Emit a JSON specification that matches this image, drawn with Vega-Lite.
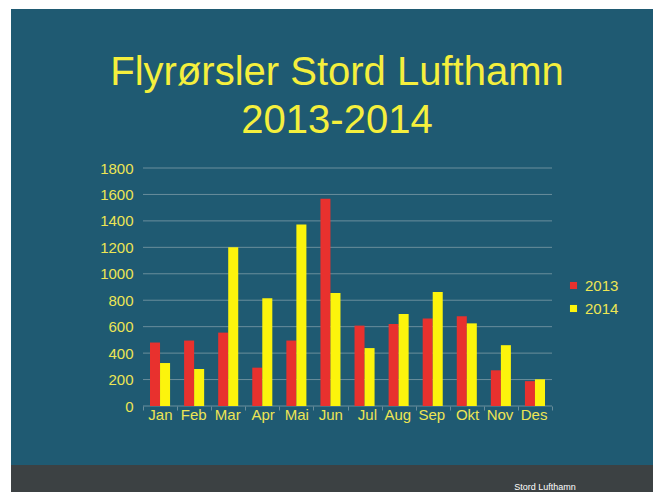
{
  "$schema": "https://vega.github.io/schema/vega-lite/v6.json",
  "width": 642,
  "height": 483,
  "autosize": {"type": "none"},
  "padding": {"left": 11, "top": 9, "right": 0, "bottom": 0},
  "background": "#ffffff",
  "config": {
    "view": {"fill": "#1f5a72", "stroke": null},
    "font": "Liberation Sans"
  },
  "title": {
    "text": ["Flyrørsler Stord Lufthamn", "2013-2014"],
    "fontSize": 40,
    "fontWeight": "normal",
    "font": "Liberation Sans",
    "color": "#f5ef3d",
    "anchor": "middle",
    "frame": "group",
    "baseline": "top",
    "lineHeight": 48,
    "dx": 5,
    "offset": -132
  },
  "datasets": {
    "flights": [
      {"month": "Jan", "year": "2013", "value": 480},
      {"month": "Jan", "year": "2014", "value": 325},
      {"month": "Feb", "year": "2013", "value": 495},
      {"month": "Feb", "year": "2014", "value": 280},
      {"month": "Mar", "year": "2013", "value": 555},
      {"month": "Mar", "year": "2014", "value": 1200},
      {"month": "Apr", "year": "2013", "value": 290},
      {"month": "Apr", "year": "2014", "value": 815},
      {"month": "Mai", "year": "2013", "value": 495},
      {"month": "Mai", "year": "2014", "value": 1372},
      {"month": "Jun", "year": "2013", "value": 1568},
      {"month": "Jun", "year": "2014", "value": 855},
      {"month": "Jul", "year": "2013", "value": 608},
      {"month": "Jul", "year": "2014", "value": 438},
      {"month": "Aug", "year": "2013", "value": 620},
      {"month": "Aug", "year": "2014", "value": 695},
      {"month": "Sep", "year": "2013", "value": 662},
      {"month": "Sep", "year": "2014", "value": 862},
      {"month": "Okt", "year": "2013", "value": 678},
      {"month": "Okt", "year": "2014", "value": 625},
      {"month": "Nov", "year": "2013", "value": 270},
      {"month": "Nov", "year": "2014", "value": 460},
      {"month": "Des", "year": "2013", "value": 188},
      {"month": "Des", "year": "2014", "value": 202}
    ],
    "gridlines": [
      {"value": 0}, {"value": 200}, {"value": 400}, {"value": 600}, {"value": 800},
      {"value": 1000}, {"value": 1200}, {"value": 1400}, {"value": 1600}, {"value": 1800}
    ],
    "footer": [{"label": "Stord Lufthamn"}]
  },
  "layer": [
    {
      "data": {"name": "footer"},
      "mark": {"type": "rect", "color": "#3c4143"},
      "encoding": {
        "y": {"datum": -446, "type": "quantitative"},
        "y2": {"datum": -680}
      }
    },
    {
      "data": {"name": "footer"},
      "mark": {"type": "text", "color": "#ffffff", "fontSize": 9, "dx": 10},
      "encoding": {
        "x": {"datum": "Des", "type": "nominal"},
        "y": {"datum": -613, "type": "quantitative"},
        "text": {"field": "label"}
      }
    },
    {
      "data": {"name": "gridlines"},
      "mark": {"type": "rule", "color": "#6a8e9c", "strokeWidth": 1},
      "encoding": {
        "x": {"datum": "Jan", "type": "nominal", "bandPosition": 0},
        "x2": {"datum": "Des", "bandPosition": 1},
        "y": {"field": "value", "type": "quantitative"}
      }
    },
    {
      "data": {"name": "flights"},
      "mark": {"type": "bar"},
      "encoding": {
        "x": {
          "field": "month",
          "type": "nominal",
          "scale": {
            "domain": ["Jan", "Feb", "Mar", "Apr", "Mai", "Jun", "Jul", "Aug", "Sep", "Okt", "Nov", "Des"],
            "range": [132, 541],
            "paddingInner": 0,
            "paddingOuter": 0
          },
          "axis": {
            "title": null,
            "orient": "bottom",
            "offset": -86,
            "domain": false,
            "ticks": true,
            "tickBand": "extent",
            "tickSize": 4,
            "tickColor": "#6a8e9c",
            "labelAngle": 0,
            "labelOffset": 12,
            "labelPadding": 4,
            "labelFontSize": 15,
            "labelColor": "#ede554",
            "labelFont": "Liberation Sans"
          }
        },
        "xOffset": {
          "field": "year",
          "type": "nominal",
          "scale": {"paddingInner": 0, "paddingOuter": 0.7}
        },
        "y": {
          "field": "value",
          "type": "quantitative",
          "scale": {"domain": [0, 1800], "range": [397, 159], "nice": false, "zero": false},
          "axis": {
            "title": null,
            "orient": "left",
            "offset": -132,
            "grid": false,
            "domain": false,
            "ticks": false,
            "format": "d",
            "values": [0, 200, 400, 600, 800, 1000, 1200, 1400, 1600, 1800],
            "labelPadding": 10,
            "labelFontSize": 15,
            "labelColor": "#ede554",
            "labelFont": "Liberation Sans"
          }
        },
        "color": {
          "field": "year",
          "type": "nominal",
          "scale": {"domain": ["2013", "2014"], "range": ["#e8312e", "#fcf40c"]},
          "legend": {
            "title": null,
            "orient": "none",
            "legendX": 555,
            "legendY": 269,
            "symbolType": "square",
            "symbolSize": 50,
            "symbolStrokeWidth": 0,
            "labelFontSize": 15,
            "labelColor": "#ede554",
            "labelFont": "Liberation Sans",
            "labelOffset": 4,
            "rowPadding": 7
          }
        }
      }
    }
  ]
}
